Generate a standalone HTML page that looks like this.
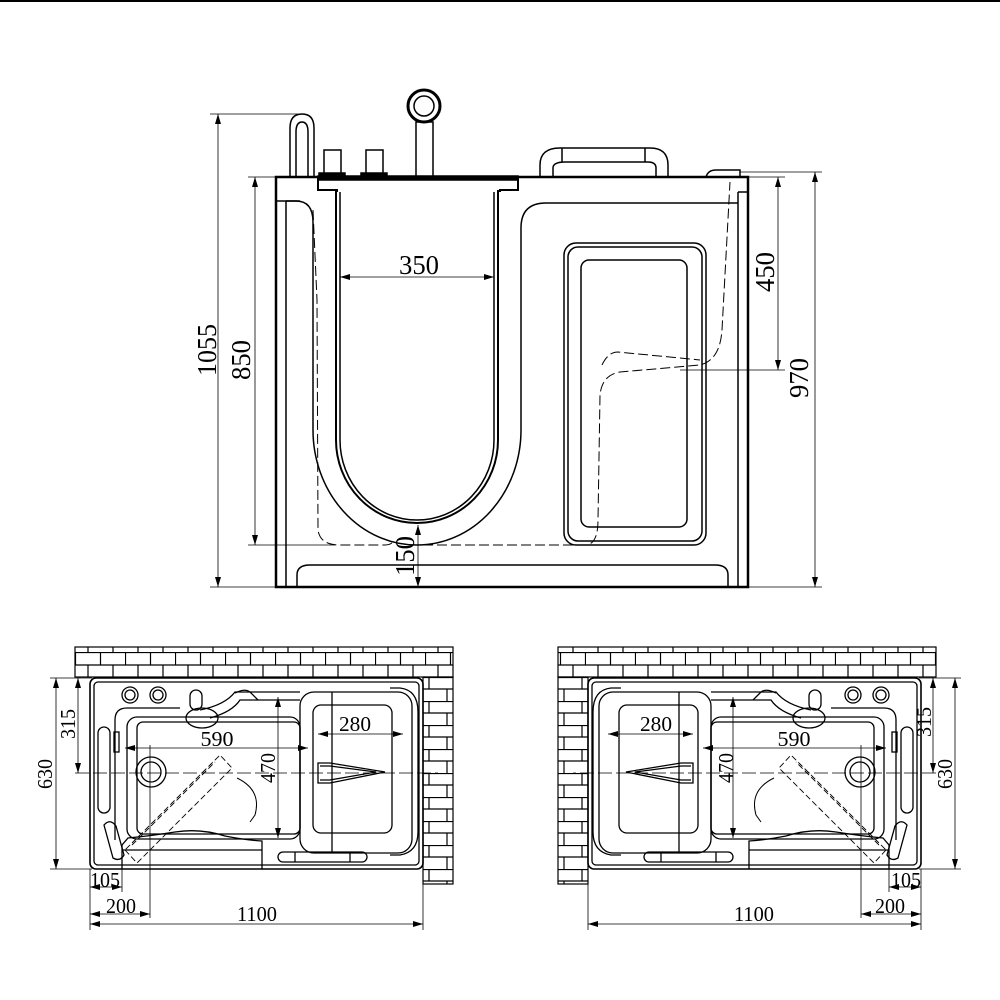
<!DOCTYPE html>
<html><head><meta charset="utf-8"><style>
html,body{margin:0;padding:0;background:#fff;}
svg{display:block;}
text{font-family:"Liberation Serif",serif;fill:#000;}
</style></head><body>
<svg width="1000" height="1000" viewBox="0 0 1000 1000" xmlns="http://www.w3.org/2000/svg">
<defs>
<marker id="ar" viewBox="0 0 10 6" refX="10" refY="3" markerWidth="10" markerHeight="6" orient="auto-start-reverse" markerUnits="userSpaceOnUse">
<path d="M0,0 L10,3 L0,6 z" fill="#000"/></marker>
<pattern id="brickH" x="75" y="652" width="50" height="26" patternUnits="userSpaceOnUse">
<rect width="50" height="26" fill="#fff"/>
<path d="M0,0.5 H50 M0,13 H50 M0.5,0 V13 M25.5,0 V13 M13,13 V26 M38,13 V26" stroke="#000" stroke-width="1.2" fill="none"/>
</pattern>
<pattern id="brickV" x="423" y="677" width="30" height="24" patternUnits="userSpaceOnUse">
<rect width="30" height="24" fill="#fff"/>
<path d="M0,0.5 H30 M0,12 H30 M6,0 V12 M24,12 V24" stroke="#000" stroke-width="1.2" fill="none"/>
</pattern>
</defs>
<rect width="1000" height="1000" fill="#fff"/>
<line x1="0" y1="1" x2="1000" y2="1" stroke="#000" stroke-width="2"/>

<!-- ============ TOP ELEVATION ============ -->
<g fill="none" stroke="#000" stroke-width="1.5">
<rect x="276" y="177" width="472" height="410" stroke-width="2.5"/>
<line x1="286" y1="201" x2="286" y2="587"/>
<line x1="738" y1="192" x2="738" y2="587"/>
<line x1="276" y1="201" x2="300" y2="201"/>
<line x1="738" y1="192" x2="748" y2="192"/>
<path d="M297,587 V575 Q297,565 310,565 H715 Q728,565 728,575 V587"/>
<path d="M318,177 H518 V190 H500 V192 M318,177 V190 H337 V192" stroke-width="2"/>
<rect x="318" y="176" width="200" height="4" fill="#000"/>
<path d="M336,190 V440 A81,83 0 0 0 498,440 V190" stroke-width="2"/>
<path d="M340,192 V440 A77,80 0 0 0 494,440 V192"/>
<path d="M286,201 H296 Q313,201 313,222 V430 A104,115 0 0 0 521,430 V228 Q521,203 546,203 H738"/>
<rect x="564" y="243" width="142" height="302" rx="12"/>
<rect x="568" y="247" width="134" height="294" rx="10"/>
<rect x="581" y="260" width="106" height="267" rx="8"/>
<path d="M540,177 V165 Q540,148 560,148 H650 Q668,148 668,165 V177"/>
<path d="M553,177 V168 Q553,162 565,162 H648 Q656,162 656,168 V177"/>
<line x1="562" y1="148" x2="562" y2="162"/>
<line x1="645" y1="148" x2="645" y2="162"/>
<path d="M706,177 Q708,170 716,170 H740 V177"/>
<path d="M290,177 V128 Q290,114 302,114 Q314,114 314,128 V177"/>
<path d="M296,177 V132 Q296,122 302,122 Q308,122 308,132 V177"/>
<rect x="324" y="150" width="17" height="25"/>
<rect x="319" y="173" width="26" height="4" fill="#000"/>
<rect x="366" y="150" width="17" height="25"/>
<rect x="361" y="173" width="26" height="4" fill="#000"/>
<circle cx="424" cy="106" r="16" stroke-width="3"/>
<circle cx="424" cy="106" r="10"/>
<rect x="416" y="122" width="17" height="55"/>
<path d="M313,210 L317,300 L318,530 Q320,545 340,545 H385 Q392,545 394,540" stroke-dasharray="10,4" stroke-width="1"/>
<path d="M423,545 H585 Q598,545 598,520 L600,395 Q602,375 620,372 L700,365 Q720,360 722,330 L730,182" stroke-dasharray="10,4" stroke-width="1"/>
<path d="M602,365 Q608,352 618,352 L700,360" stroke-dasharray="10,4" stroke-width="1"/>
</g>
<g stroke="#000" stroke-width="0.8" fill="none">
<line x1="210" y1="114" x2="298" y2="114"/>
<line x1="210" y1="587" x2="276" y2="587"/>
<line x1="218" y1="114" x2="218" y2="587" marker-start="url(#ar)" marker-end="url(#ar)"/>
<line x1="248" y1="177" x2="276" y2="177"/>
<line x1="248" y1="545" x2="335" y2="545"/>
<line x1="255" y1="177" x2="255" y2="545" marker-start="url(#ar)" marker-end="url(#ar)"/>
<line x1="340" y1="277" x2="494" y2="277" marker-start="url(#ar)" marker-end="url(#ar)"/>
<line x1="418" y1="525" x2="418" y2="587" marker-start="url(#ar)" marker-end="url(#ar)"/>
<line x1="740" y1="177" x2="785" y2="177"/>
<line x1="778" y1="177" x2="778" y2="370" marker-start="url(#ar)" marker-end="url(#ar)"/>
<line x1="680" y1="370" x2="785" y2="370"/>
<line x1="740" y1="172" x2="822" y2="172"/>
<line x1="748" y1="587" x2="822" y2="587"/>
<line x1="815" y1="172" x2="815" y2="587" marker-start="url(#ar)" marker-end="url(#ar)"/>
</g>
<g font-size="27">
<text x="419" y="274" text-anchor="middle" textLength="40" lengthAdjust="spacingAndGlyphs">350</text>
<text transform="translate(216,350) rotate(-90)" text-anchor="middle" textLength="52" lengthAdjust="spacingAndGlyphs">1055</text>
<text transform="translate(250,360) rotate(-90)" text-anchor="middle" textLength="40" lengthAdjust="spacingAndGlyphs">850</text>
<text transform="translate(414,556) rotate(-90)" text-anchor="middle" textLength="40" lengthAdjust="spacingAndGlyphs">150</text>
<text transform="translate(774,272) rotate(-90)" text-anchor="middle" textLength="40" lengthAdjust="spacingAndGlyphs">450</text>
<text transform="translate(808,378) rotate(-90)" text-anchor="middle" textLength="40" lengthAdjust="spacingAndGlyphs">970</text>
</g>

<!-- ============ PLAN ============ -->
<g id="plan">
<rect x="75" y="647" width="378" height="30" fill="url(#brickH)" stroke="#000" stroke-width="1.2"/>
<rect x="423" y="677" width="30" height="207" fill="url(#brickV)" stroke="#000" stroke-width="1.2"/>
<g fill="none" stroke="#000" stroke-width="1.3">
<rect x="90" y="678" width="333" height="191" rx="6" stroke-width="1.6"/>
<rect x="94" y="682" width="325" height="183" rx="4"/>
<path d="M115,840 V720 Q115,708 127,708 H180"/>
<path d="M235,693 Q245,688 250,692 L258,700"/>
<rect x="127" y="717" width="173" height="122" rx="10"/>
<rect x="137" y="722" width="163" height="112" rx="6"/>
<path d="M200,710 Q225,705 235,692 H300"/>
<path d="M210,718 Q232,712 240,700 H300"/>
<rect x="300" y="692" width="112" height="161" rx="14"/>
<rect x="313" y="705" width="79" height="128" rx="8"/>
<line x1="332" y1="692" x2="332" y2="853"/>
<path d="M390,688 H400 Q418,690 418,712 V832 Q418,852 400,855 H390"/>
<path d="M318,763 H330 L385,772 L330,783 H318 Z"/>
<path d="M320,766 H330 L376,772 L330,780 H320"/>
<ellipse cx="202" cy="718" rx="16" ry="10"/>
<rect x="190" y="690" width="12" height="20" rx="6"/>
<circle cx="130" cy="695" r="8"/><circle cx="130" cy="695" r="5"/>
<circle cx="158" cy="695" r="8"/><circle cx="158" cy="695" r="5"/>
<circle cx="151" cy="772" r="15"/><circle cx="151" cy="772" r="10"/>
<rect x="98" y="727" width="12" height="86" rx="6"/>
<rect x="114" y="732" width="5" height="20"/>
<path d="M104,825 Q110,818 116,826 L124,855 Q120,862 113,858 Z"/>
<rect x="278" y="852" width="89" height="10" rx="5"/>
<line x1="295" y1="852" x2="295" y2="862"/><line x1="350" y1="852" x2="350" y2="862"/>
<path d="M122,869 V845 L128,838 Q150,836 175,832 Q200,828 225,836 Q245,840 262,841 V869"/>
<line x1="122" y1="850" x2="262" y2="850"/>
<path d="M237,778 Q262,790 255,815 L250,822" stroke-width="1"/>
<path d="M125,850 L137,863 L232,768 L220,755 Z" stroke-dasharray="6,3" stroke-width="0.9"/>
<path d="M132,845 L215,762" stroke-dasharray="6,3" stroke-width="0.9"/>
</g>
<g stroke="#000" stroke-width="0.8" fill="none">
<line x1="75" y1="773" x2="438" y2="773" stroke-dasharray="14,4"/>
<line x1="50" y1="678" x2="92" y2="678"/>
<line x1="50" y1="869" x2="92" y2="869"/>
<line x1="56" y1="678" x2="56" y2="869" marker-start="url(#ar)" marker-end="url(#ar)"/>
<line x1="78" y1="678" x2="78" y2="773" marker-start="url(#ar)" marker-end="url(#ar)"/>
<line x1="125" y1="748" x2="308" y2="748" marker-start="url(#ar)" marker-end="url(#ar)"/>
<line x1="278" y1="697" x2="278" y2="838" marker-start="url(#ar)" marker-end="url(#ar)"/>
<line x1="318" y1="734" x2="403" y2="734" marker-start="url(#ar)" marker-end="url(#ar)"/>
<line x1="90" y1="869" x2="90" y2="930"/>
<line x1="122" y1="869" x2="122" y2="892"/>
<line x1="150" y1="745" x2="150" y2="918"/>
<line x1="423" y1="869" x2="423" y2="930"/>
<line x1="90" y1="887" x2="122" y2="887" marker-start="url(#ar)" marker-end="url(#ar)"/>
<line x1="90" y1="914" x2="150" y2="914" marker-start="url(#ar)" marker-end="url(#ar)"/>
<line x1="90" y1="924" x2="423" y2="924" marker-start="url(#ar)" marker-end="url(#ar)"/>
</g>
</g>
<use href="#plan" transform="translate(1011,0) scale(-1,1)"/>

<g font-size="21">
<text x="217" y="746" text-anchor="middle" textLength="33" lengthAdjust="spacingAndGlyphs">590</text>
<text x="355" y="731" text-anchor="middle" textLength="32" lengthAdjust="spacingAndGlyphs">280</text>
<text x="105" y="887" text-anchor="middle" textLength="30" lengthAdjust="spacingAndGlyphs">105</text>
<text x="121" y="913" text-anchor="middle" textLength="30" lengthAdjust="spacingAndGlyphs">200</text>
<text x="257" y="921" text-anchor="middle" textLength="40" lengthAdjust="spacingAndGlyphs">1100</text>
<text transform="translate(275,768) rotate(-90)" text-anchor="middle" textLength="30" lengthAdjust="spacingAndGlyphs">470</text>
<text transform="translate(75,724) rotate(-90)" text-anchor="middle" textLength="30" lengthAdjust="spacingAndGlyphs">315</text>
<text transform="translate(52,774) rotate(-90)" text-anchor="middle" textLength="30" lengthAdjust="spacingAndGlyphs">630</text>

<text x="794" y="746" text-anchor="middle" textLength="33" lengthAdjust="spacingAndGlyphs">590</text>
<text x="656" y="731" text-anchor="middle" textLength="32" lengthAdjust="spacingAndGlyphs">280</text>
<text x="906" y="887" text-anchor="middle" textLength="30" lengthAdjust="spacingAndGlyphs">105</text>
<text x="890" y="913" text-anchor="middle" textLength="30" lengthAdjust="spacingAndGlyphs">200</text>
<text x="754" y="921" text-anchor="middle" textLength="40" lengthAdjust="spacingAndGlyphs">1100</text>
<text transform="translate(733,768) rotate(-90)" text-anchor="middle" textLength="30" lengthAdjust="spacingAndGlyphs">470</text>
<text transform="translate(931,722) rotate(-90)" text-anchor="middle" textLength="30" lengthAdjust="spacingAndGlyphs">315</text>
<text transform="translate(952,774) rotate(-90)" text-anchor="middle" textLength="30" lengthAdjust="spacingAndGlyphs">630</text>
</g>
</svg>
</body></html>
